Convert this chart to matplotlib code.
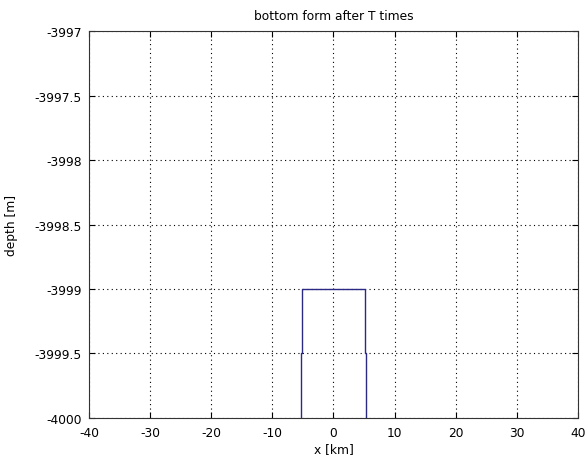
import matplotlib
matplotlib.use("Agg")
import matplotlib.pyplot as plt

x_vals = [-5.3, -5.3, -5.1, -5.1, 5.1, 5.1, 5.3, 5.3]
depth = [-4000, -3999.5, -3999.5, -3999, -3999, -3999.5, -3999.5, -4000]
xticks = [-40, -30, -20, -10, 0, 10, 20, 30, 40]
yticks = [-4000, -3999.5, -3999, -3998.5, -3998, -3997.5, -3997]
ytick_labels = ["-4000", "-3999.5", "-3999", "-3998.5", "-3998", "-3997.5", "-3997"]

plt.rcParams['font.family'] = ['DejaVu Sans']
fs = 8.8
fig = plt.figure(figsize=(5.85, 4.64), dpi=100)
ax = fig.add_axes([0.152, 0.097, 0.836, 0.834])
ax.plot(x_vals, depth, color='#2a2a85', lw=1.0)
ax.set_xlim(-40, 40)
ax.set_ylim(-4000, -3997)
ax.set_xticks(xticks)
ax.set_xticklabels([str(t) for t in xticks])
ax.set_yticks(yticks)
ax.set_yticklabels(ytick_labels)
ax.grid(True, linestyle=(0, (1, 3)), color='black', lw=0.8)
ax.tick_params(direction='in', labelsize=fs, length=4, top=True, right=True)
ax.tick_params(axis='y', pad=5)
ax.tick_params(axis='x', pad=6)
for s in ax.spines.values():
    s.set_linewidth(0.8)
    s.set_color('#333333')
ax.set_title("bottom form after T times", fontsize=fs, pad=9)
ax.set_xlabel("x [km]", fontsize=fs, labelpad=2)
ax.set_ylabel("depth [m]", fontsize=fs, labelpad=12)
fig.savefig("out.png", dpi=100)
